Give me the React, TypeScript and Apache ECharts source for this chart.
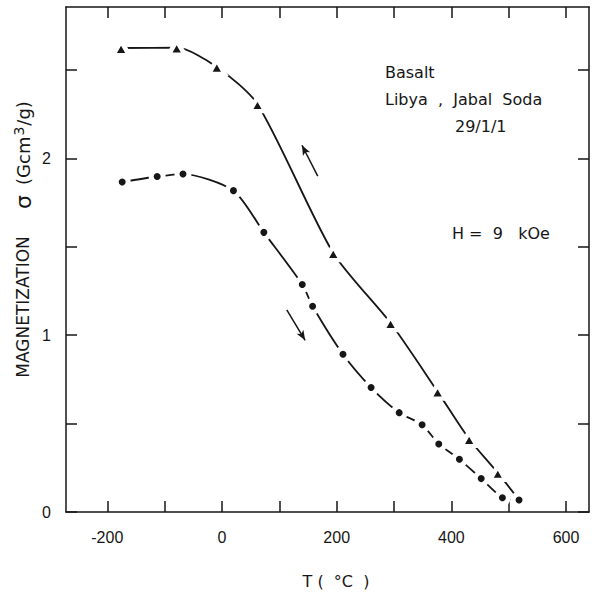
import React, { useEffect, useRef } from 'react';
import * as echarts from 'echarts';

// Heating run (dots), temperature in °C and magnetization sigma in G cm^3/g
const heatingT = [-174, -113, -68, 20, 73, 140, 158, 211, 260, 309, 349, 378, 414, 452, 489, 518];
const heatingSigma = [1.867, 1.898, 1.912, 1.818, 1.582, 1.287, 1.164, 0.892, 0.704, 0.562, 0.494, 0.385, 0.298, 0.189, 0.081, 0.068];

// Cooling run (triangles); last point is the shared end point at the top temperature
const coolingT = [-176, -79, -9, 62, 194, 294, 376, 431, 481, 518];
const coolingSigma = [2.625, 2.627, 2.518, 2.307, 1.465, 1.069, 0.681, 0.413, 0.221, 0.068];

// Axis ticks and labels
const xTickValues = [-200, -100, 0, 100, 200, 300, 400, 500, 600];
const xLabelValues = [-200, 0, 200, 400, 600];
const yTickValues = [0, 0.5, 1, 1.5, 2, 2.5];
const yLabelValues = [0, 1, 2];

// Direction arrows (from, to) in data coordinates
const coolingArrow = [[167, 1.9], [139.5, 2.075]];
const heatingArrow = [[113, 1.144], [145, 0.971]];

const X_MIN = -272;
const X_MAX = 640;
const Y_MIN = 0;
const Y_MAX = 2.857;

const TICK_FONT = 'Liberation Sans, Arial, Helvetica, sans-serif';
const FONT = 'DejaVu Sans, Verdana, sans-serif';
const INK = '#161616';

export default function App() {
  const ref = useRef<HTMLDivElement>(null);

  useEffect(() => {
    if (!ref.current) return;
    const chart = echarts.init(ref.current, null, { renderer: 'svg' });

    const heatingData = heatingT.map((t, i) => [t, heatingSigma[i]]);
    const coolingData = coolingT.map((t, i) =>
      i === coolingT.length - 1
        ? { value: [t, coolingSigma[i]], symbol: 'none' }
        : { value: [t, coolingSigma[i]] }
    );

    const lineStyleAxis = { color: INK, width: 1.5 };
    const xBase: any = {
      type: 'value',
      min: X_MIN,
      max: X_MAX,
      splitLine: { show: false },
      axisLine: { show: true, onZero: false, lineStyle: lineStyleAxis },
      axisTick: { show: true, inside: true, length: 11, customValues: xTickValues, lineStyle: lineStyleAxis },
    };
    const yBase: any = {
      type: 'value',
      min: Y_MIN,
      max: Y_MAX,
      splitLine: { show: false },
      axisLine: { show: true, onZero: false, lineStyle: lineStyleAxis },
      axisTick: { show: true, inside: true, length: 11, customValues: yTickValues, lineStyle: lineStyleAxis },
    };

    const arrowMark = (pts: number[][]) => ({
      silent: true,
      symbol: ['none', 'arrow'],
      symbolSize: [6, 10],
      label: { show: false },
      emphasis: { disabled: true },
      lineStyle: { color: INK, width: 1.5, type: 'solid' },
      data: [[{ coord: pts[0] }, { coord: pts[1] }]],
    });

    chart.setOption({
      animation: false,
      backgroundColor: '#ffffff',
      grid: { left: 66, right: 5, top: 7, bottom: 81, containLabel: false },
      xAxis: [
        {
          ...xBase,
          position: 'bottom',
          axisLabel: {
            show: true,
            customValues: xLabelValues,
            formatter: (v: number) => String(v),
            fontSize: 16,
            fontFamily: TICK_FONT,
            color: INK,
            margin: 17,
          },
        },
        { ...xBase, position: 'top', axisLabel: { show: false } },
      ],
      yAxis: [
        {
          ...yBase,
          position: 'left',
          axisLabel: {
            show: true,
            customValues: yLabelValues,
            formatter: (v: number) => String(v),
            fontSize: 16,
            fontFamily: TICK_FONT,
            color: INK,
            margin: 15,
          },
        },
        { ...yBase, position: 'right', axisLabel: { show: false } },
      ],
      series: [
        {
          type: 'line',
          data: heatingData,
          symbol: 'circle',
          symbolSize: 12,
          showSymbol: true,
          smooth: 0.25,
          lineStyle: { color: INK, width: 1.8 },
          itemStyle: { color: INK, borderColor: '#ffffff', borderWidth: 5, opacity: 1 },
          z: 3,
          silent: true,
          markLine: arrowMark(heatingArrow),
        },
        {
          type: 'line',
          data: coolingData,
          symbol: 'triangle',
          symbolSize: [16, 14],
          showSymbol: true,
          smooth: 0.25,
          lineStyle: { color: INK, width: 1.8 },
          itemStyle: { color: INK, borderColor: '#ffffff', borderWidth: 4.5, opacity: 1 },
          z: 2,
          silent: true,
          markLine: arrowMark(coolingArrow),
        },
      ],
      graphic: [
        {
          type: 'text',
          x: 385,
          y: 72,
          style: { text: 'Basalt', font: `16px ${FONT}`, fill: INK, align: 'left', verticalAlign: 'middle' },
        },
        {
          type: 'text',
          x: 385,
          y: 99,
          style: { text: 'Libya  ,  Jabal  Soda', font: `16px ${FONT}`, fill: INK, align: 'left', verticalAlign: 'middle' },
        },
        {
          type: 'text',
          x: 455,
          y: 126,
          style: { text: '29/1/1', font: `16px ${FONT}`, fill: INK, align: 'left', verticalAlign: 'middle' },
        },
        {
          type: 'text',
          x: 452,
          y: 233,
          style: { text: 'H =  9   kOe', font: `16px ${FONT}`, fill: INK, align: 'left', verticalAlign: 'middle' },
        },
        {
          type: 'text',
          x: 336,
          y: 581,
          style: { text: 'T (  °C  )', font: `16px ${FONT}`, fill: INK, align: 'center', verticalAlign: 'middle' },
        },
        {
          type: 'text',
          x: 23,
          y: 307,
          rotation: Math.PI / 2,
          style: { text: 'MAGNETIZATION', font: `17px ${FONT}`, fill: INK, align: 'center', verticalAlign: 'middle' },
        },
        {
          type: 'text',
          x: 23,
          y: 155,
          rotation: Math.PI / 2,
          style: {
            text: '{s|σ}   {a|(Gcm}{p|3}{a|/g)}',
            align: 'center',
            verticalAlign: 'middle',
            rich: {
              s: { font: `22px ${FONT}`, fill: INK },
              a: { font: `18px ${FONT}`, fill: INK },
              p: { font: `14px ${FONT}`, fill: INK, padding: [0, 1, 9, 1] },
            },
          },
        },
      ],
    });

    return () => chart.dispose();
  }, []);

  return (
    <div
      ref={ref}
      style={{ position: 'fixed', left: 0, top: 0, width: 594, height: 593, background: '#fff' }}
    />
  );
}
